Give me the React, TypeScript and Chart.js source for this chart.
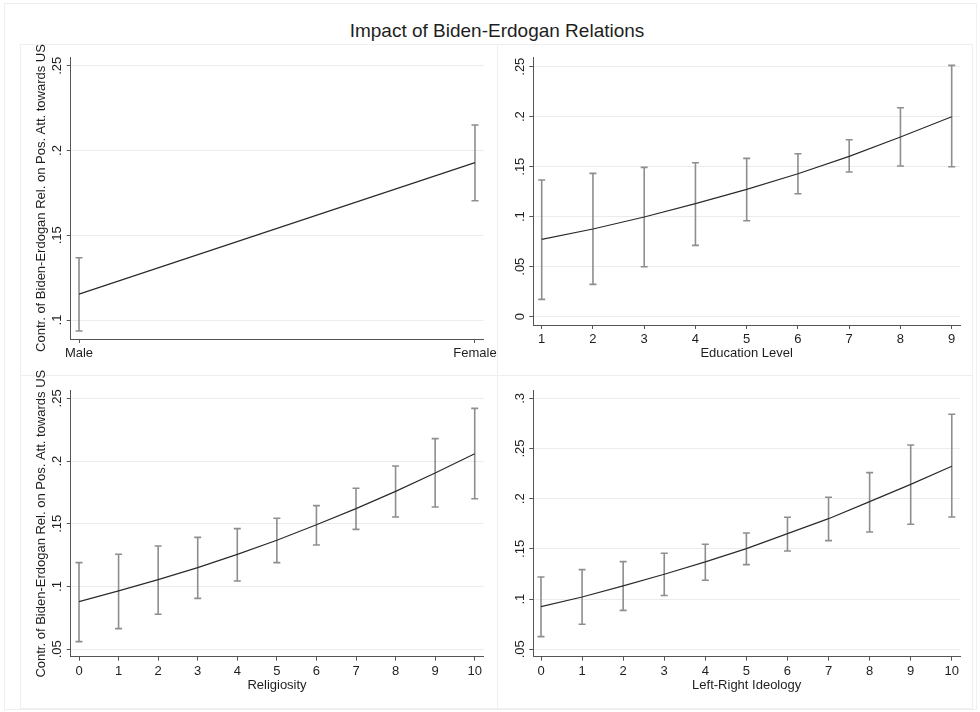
import React, { useEffect, useRef } from "react";
import { Chart, registerables } from "chart.js";

Chart.register(...registerables);

const FONT = "'Liberation Sans', Arial, Helvetica, sans-serif";

// ---------- DATA ----------
const chartTitle = "Impact of Biden-Erdogan Relations";
const yAxisTitle = "Contr. of Biden-Erdogan Rel. on Pos. Att. towards US";

const genderCategories = ["Male", "Female"];
const genderX = [0, 1];
const genderEst = [0.1153, 0.1929];
const genderLo = [0.0935, 0.1704];
const genderHi = [0.1367, 0.2151];
const genderYTicks = [0.1, 0.15, 0.2, 0.25];

const eduLevels = [1, 2, 3, 4, 5, 6, 7, 8, 9];
const eduEst = [0.0773, 0.0877, 0.0997, 0.113, 0.1273, 0.143, 0.1603, 0.1797, 0.2];
const eduLo = [0.0173, 0.0323, 0.05, 0.0713, 0.096, 0.123, 0.1447, 0.1507, 0.15];
const eduHi = [0.1367, 0.1433, 0.1493, 0.154, 0.1583, 0.163, 0.177, 0.209, 0.2513];
const eduYTicks = [0, 0.05, 0.1, 0.15, 0.2, 0.25];

const relLevels = [0, 1, 2, 3, 4, 5, 6, 7, 8, 9, 10];
const relEst = [0.088, 0.0965, 0.1055, 0.1151, 0.1257, 0.1369, 0.1493, 0.1621, 0.1759, 0.1905, 0.2059];
const relLo = [0.0561, 0.0665, 0.0779, 0.0906, 0.1044, 0.1191, 0.1331, 0.1456, 0.1554, 0.1634, 0.17];
const relHi = [0.1191, 0.1257, 0.1323, 0.1392, 0.1462, 0.1544, 0.1645, 0.1783, 0.1961, 0.2179, 0.242];
const relYTicks = [0.05, 0.1, 0.15, 0.2, 0.25];

const ideoLevels = [0, 1, 2, 3, 4, 5, 6, 7, 8, 9, 10];
const ideoEst = [0.0925, 0.1021, 0.1131, 0.1247, 0.137, 0.1503, 0.1652, 0.1801, 0.1971, 0.2143, 0.2323];
const ideoLo = [0.0626, 0.0749, 0.0888, 0.1035, 0.1187, 0.1343, 0.1479, 0.1582, 0.1669, 0.1745, 0.1818];
const ideoHi = [0.122, 0.1293, 0.1373, 0.1456, 0.1546, 0.1659, 0.1815, 0.2014, 0.226, 0.2535, 0.2841];
const ideoYTicks = [0.05, 0.1, 0.15, 0.2, 0.25, 0.3];

// ---------- STYLE / LAYOUT ----------
const TEXT = "#1e1e1e";
const AXIS = "#555555";
const GRID = "#ececec";
const LINE = "#2b2b2b";
const ERR = "#8e8e8e";

type PanelCfg = {
  xs: number[];
  est: number[];
  lo: number[];
  hi: number[];
  xLabels?: string[];
  yTicks: number[];
  xRange: [number, number];
  yRange: [number, number];
  xTitle?: string;
  yTitle?: string;
  pad: { left: number; top: number; right: number; bottom: number };
  yWidth: number;
  xHeight: number;
};

const panels: PanelCfg[] = [
  {
    xs: genderX, est: genderEst, lo: genderLo, hi: genderHi, xLabels: genderCategories,
    yTicks: genderYTicks, xRange: [-0.021, 1.021], yRange: [0.0888, 0.2552],
    yTitle: yAxisTitle,
    pad: { left: 20, top: 57, right: 496.7, bottom: 337 }, yWidth: 50.7, xHeight: 36,
  },
  {
    xs: eduLevels, est: eduEst, lo: eduLo, hi: eduHi,
    yTicks: eduYTicks, xRange: [0.836, 9.162], yRange: [-0.0083, 0.2594],
    xTitle: "Education Level",
    pad: { left: 497, top: 57.3, right: 20, bottom: 350 }, yWidth: 36.3, xHeight: 37,
  },
  {
    xs: relLevels, est: relEst, lo: relLo, hi: relHi,
    yTicks: relYTicks, xRange: [-0.21, 10.217], yRange: [0.0441, 0.2561],
    xTitle: "Religiosity", yTitle: yAxisTitle,
    pad: { left: 20, top: 390.7, right: 496.7, bottom: 18 }, yWidth: 50.7, xHeight: 37.3,
  },
  {
    xs: ideoLevels, est: ideoEst, lo: ideoLo, hi: ideoHi,
    yTicks: ideoYTicks, xRange: [-0.1875, 10.2], yRange: [0.0426, 0.3083],
    xTitle: "Left-Right Ideology",
    pad: { left: 497, top: 390, right: 20, bottom: 18 }, yWidth: 36.3, xHeight: 37.3,
  },
];

function fmtY(v: number): string {
  const r = +v.toFixed(4);
  if (r === 0) return "0";
  return String(r).replace(/^0\./, ".");
}

const errorBarPlugin = {
  id: "errorBars",
  beforeDatasetsDraw(chart: any, _args: any, opts: any) {
    const { ctx, scales } = chart;
    const xs: number[] = opts.xs || [];
    const lo: number[] = opts.lo || [];
    const hi: number[] = opts.hi || [];
    ctx.save();
    ctx.strokeStyle = ERR;
    ctx.lineWidth = 1.6;
    for (let i = 0; i < xs.length; i++) {
      const x = scales.x.getPixelForValue(xs[i]);
      const y1 = scales.y.getPixelForValue(lo[i]);
      const y2 = scales.y.getPixelForValue(hi[i]);
      ctx.beginPath();
      ctx.moveTo(x, y1);
      ctx.lineTo(x, y2);
      ctx.moveTo(x - 3.5, y1);
      ctx.lineTo(x + 3.5, y1);
      ctx.moveTo(x - 3.5, y2);
      ctx.lineTo(x + 3.5, y2);
      ctx.stroke();
    }
    ctx.restore();
  },
};

const rotatedYLabels = {
  id: "rotatedYLabels",
  afterDraw(chart: any) {
    const { ctx, scales, chartArea } = chart;
    const y = scales.y;
    ctx.save();
    ctx.fillStyle = TEXT;
    ctx.font = `13px ${FONT}`;
    ctx.textAlign = "center";
    ctx.textBaseline = "middle";
    for (const t of y.ticks) {
      const py = y.getPixelForValue(t.value);
      ctx.save();
      ctx.translate(chartArea.left - 13, py);
      ctx.rotate(-Math.PI / 2);
      ctx.fillText(fmtY(t.value), 0, 0);
      ctx.restore();
    }
    ctx.restore();
  },
};

function Panel({ cfg }: { cfg: PanelCfg }) {
  const ref = useRef<HTMLCanvasElement>(null);
  useEffect(() => {
    if (!ref.current) return;
    const chart = new Chart(ref.current, {
      type: "line",
      data: {
        datasets: [
          {
            data: cfg.xs.map((x, i) => ({ x, y: cfg.est[i] })),
            borderColor: LINE,
            borderWidth: 1.2,
            pointRadius: 0,
            tension: 0,
            fill: false,
          },
        ],
      },
      options: {
        animation: false,
        responsive: false,
        devicePixelRatio: 1,
        events: [],
        layout: { padding: cfg.pad, autoPadding: false },
        plugins: {
          legend: { display: false },
          tooltip: { enabled: false },
          errorBars: { xs: cfg.xs, lo: cfg.lo, hi: cfg.hi },
        } as any,
        scales: {
          x: {
            type: "linear",
            position: "bottom",
            min: cfg.xRange[0],
            max: cfg.xRange[1],
            afterBuildTicks: (s: any) => {
              s.ticks = cfg.xs.map((v) => ({ value: v }));
            },
            afterFit: (s: any) => {
              s.height = cfg.xHeight;
            },
            grid: {
              drawOnChartArea: false,
              drawTicks: true,
              tickLength: 4,
              tickColor: AXIS,
              tickWidth: 1,
            },
            border: { color: AXIS, width: 1 },
            ticks: {
              autoSkip: false,
              maxRotation: 0,
              minRotation: 0,
              padding: 3,
              color: TEXT,
              font: { family: FONT, size: 13 },
              callback: (v: any, i: number) =>
                cfg.xLabels ? cfg.xLabels[i] : String(v),
            },
            title: {
              display: !!cfg.xTitle,
              text: cfg.xTitle || "",
              color: TEXT,
              font: { family: FONT, size: 13 },
              padding: { top: 0, bottom: 1.2 },
            },
          },
          y: {
            type: "linear",
            position: "left",
            min: cfg.yRange[0],
            max: cfg.yRange[1],
            afterBuildTicks: (s: any) => {
              s.ticks = cfg.yTicks.map((v) => ({ value: v }));
            },
            afterFit: (s: any) => {
              s.width = cfg.yWidth;
            },
            grid: {
              color: GRID,
              lineWidth: 1,
              drawTicks: true,
              tickLength: 4,
              tickColor: AXIS,
              tickWidth: 1,
            },
            border: { color: AXIS, width: 1 },
            ticks: { display: false },
            title: {
              display: !!cfg.yTitle,
              text: cfg.yTitle || "",
              color: TEXT,
              font: { family: FONT, size: 13 },
              padding: { top: 13.9, bottom: 0 },
            },
          },
        },
      } as any,
      plugins: [errorBarPlugin, rotatedYLabels],
    });
    return () => chart.destroy();
  }, []);
  return (
    <canvas
      ref={ref}
      width={980}
      height={712}
      style={{ position: "absolute", left: 0, top: 0, width: 980, height: 712 }}
    />
  );
}

const boxStyle = (l: number, t: number, r: number, b: number): React.CSSProperties => ({
  position: "absolute",
  left: l,
  top: t,
  width: r - l,
  height: b - t,
  border: "1px solid #efefef",
  boxSizing: "border-box",
});

export default function App() {
  return (
    <div
      style={{
        position: "fixed",
        left: 0,
        top: 0,
        width: 980,
        height: 712,
        background: "#ffffff",
        overflow: "hidden",
        fontFamily: FONT,
      }}
    >
      <div style={boxStyle(4, 3, 977, 710)} />
      <div style={boxStyle(20, 44, 498, 376)} />
      <div style={boxStyle(497, 44, 973, 376)} />
      <div style={boxStyle(20, 375, 498, 709)} />
      <div style={boxStyle(497, 375, 973, 709)} />
      <div
        style={{
          position: "absolute",
          left: 497,
          top: 20,
          transform: "translateX(-50%)",
          fontSize: 19,
          lineHeight: "22px",
          color: TEXT,
          whiteSpace: "nowrap",
        }}
      >
        {chartTitle}
      </div>
      {panels.map((p, i) => (
        <Panel key={i} cfg={p} />
      ))}
    </div>
  );
}
